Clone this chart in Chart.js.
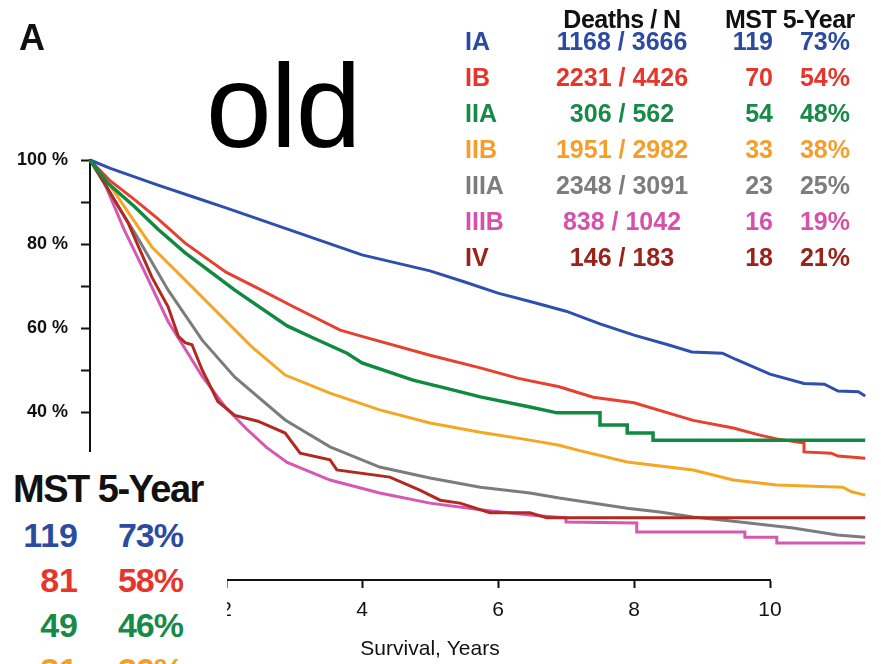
<!DOCTYPE html>
<html>
<head>
<meta charset="utf-8">
<script src="https://cdn.jsdelivr.net/npm/chart.js@4.4.1/dist/chart.umd.min.js"></script>
<style>
  html, body { margin: 0; padding: 0; background: #fff; }
  body { width: 885px; height: 664px; overflow: hidden; position: relative;
         font-family: "Liberation Sans", Arial, sans-serif; }
  #wrap { position: absolute; left: 0; top: 0; width: 885px; height: 664px; }
  .t { position: absolute; white-space: nowrap; line-height: 1; font-weight: bold; }
  #oldBox { position: absolute; left: 0; top: 452px; width: 227px; height: 212px; background: #fff; }
</style>
</head>
<body>
<div id="wrap"><canvas id="km"></canvas></div>
<div id="overlay"></div>
<div id="oldBox"></div>
<script>
// ── DATA ─────────────────────────────────────────────────────────────────────
const stages      = ['IA', 'IB', 'IIA', 'IIB', 'IIIA', 'IIIB', 'IV'];
const deaths      = [1168, 2231, 306, 1951, 2348, 838, 146];
const patients    = [3666, 4426, 562, 2982, 3091, 1042, 183];
const mstMonths   = [119, 70, 54, 33, 23, 16, 18];
const fiveYearPct = [73, 54, 48, 38, 25, 19, 21];

// older staging box (bottom-left, partly cut off)
const oldMst      = [119, 81, 49, 31];
const oldFiveYear = [73, 58, 46, 36];

const textColors = ['#2b4ba3', '#e8352b', '#178a47', '#f59e2c', '#7d7d7d', '#d651a9', '#9a2219'];
const lineColors = ['#2d4fae', '#e8402e', '#108a40', '#f5a623', '#7c7c7c', '#d658b2', '#b02a20'];

// survival curves, [years, % surviving]
const survIA = [[0,100],[0.3,98],[1,94],[1.5,91.3],[2,88.6],[2.5,85.8],[3,83],[3.5,80.2],[4,77.4],[4.5,75.5],
  [5,73.6],[5.5,71],[6,68.3],[6.5,66.2],[7,64],[7.5,61],[8,58.3],[8.5,56],[8.85,54.3],[9.3,54],[9.5,52.5],
  [10,49],[10.5,46.8],[10.8,46.6],[11,45],[11.3,44.8],[11.4,43.8]];
const survIB = [[0,100],[0.3,95],[0.66,90.5],[1,86],[1.4,80.2],[2,73.3],[2.5,69.2],[3,65],[3.68,59.5],[4,58],
  [5,53.5],[5.74,50.5],[6.3,48],[6.9,46],[7.4,43.5],[8,42.2],[8.87,38],[9.46,36.2],[9.85,34.5],[10.1,33.6],
  [10.5,32.6],[10.5,30.5],[10.9,30.2],[11,29.5],[11.4,29]];
const survIIA = [[0,100],[0.26,94.5],[0.66,88.8],[1,83.5],[1.4,77.9],[2.13,69],[2.9,60.5],[3.3,57.5],[3.78,54],
  [4,51.7],[4.75,47.6],[5.2,45.8],[5.74,43.6],[6.47,41.2],[6.87,39.8],[7.5,39.8],[7.5,36.9],[7.9,36.9],
  [7.9,35],[8.28,35],[8.28,33.3],[11.4,33.3]];
const survIIB = [[0,100],[0.25,95],[0.51,88.8],[0.91,79.3],[1.4,71.4],[1.88,63.6],[2.38,55.5],[2.87,48.8],
  [3.53,44.5],[4.26,40.5],[5,37.4],[5.74,35.2],[6.47,33.3],[6.9,32.1],[7.2,30.8],[7.9,28.1],[8.87,26.2],
  [9.46,23.8],[10.1,22.6],[11.07,22.1],[11.2,21],[11.4,20.2]];
const survIIIA = [[0,100],[0.3,92],[0.66,82.6],[1.15,69],[1.65,57.1],[2.13,48.3],[2.87,38.1],[3.53,31.7],
  [4.26,26.9],[5,24.3],[5.74,22.1],[6.47,20.7],[6.9,19.5],[7.9,17.1],[8.38,16.2],[8.87,15],[9.46,14],
  [10.34,12.4],[10.99,10.7],[11.4,10.2]];
const survIIIB = [[0,100],[0.2,95],[0.5,83.5],[0.8,73.5],[1.15,61.5],[1.4,55],[1.65,48.5],[2,41],[2.3,36],
  [2.6,31.5],[2.9,28],[3.53,23.8],[4.26,20.7],[5,18.3],[5.74,16.7],[6.47,15.5],[7,14.8],[7,13.8],[8.04,13.6],
  [8.04,11.4],[9.63,11.4],[9.63,10.2],[10.1,10.2],[10.1,8.8],[11.4,8.8]];
const survIV = [[0,100],[0.25,93.5],[0.56,85],[0.91,72.1],[1.15,65],[1.3,58],[1.4,56.5],[1.5,56],[1.65,50],
  [1.88,42.5],[2.13,39.2],[2.47,37.8],[2.87,35],[3.09,30.2],[3.53,28.6],[3.63,26.2],[4.41,24.5],[4.85,21.4],
  [5.15,19],[5.44,18.3],[5.88,16],[6.47,16],[6.72,14.8],[11.4,14.8]];
const curves = [survIA, survIB, survIIA, survIIB, survIIIA, survIIIB, survIV];
const drawOrder = [2, 3, 0, 4, 5, 6, 1];   // lower = drawn on top

const X_TICK_STEP = 2;
const Y_TICK_STEP = 10;

// ── TEXT OVERLAYS ────────────────────────────────────────────────────────────
const FONT = '"Liberation Sans", Arial, sans-serif';
const overlay = document.getElementById('overlay');

// place text by its baseline; align: left | center | right
function put(parent, text, x, baseline, size, color, align = 'left', extra = {}) {
  const d = document.createElement('div');
  d.className = 't';
  d.textContent = text;
  d.style.fontSize = size + 'px';
  d.style.color = color;
  d.style.left = x + 'px';
  d.style.top = (baseline - 0.8465 * size) + 'px';
  if (align === 'center') d.style.transform = 'translateX(-50%)';
  if (align === 'right')  d.style.transform = 'translateX(-100%)';
  Object.assign(d.style, extra);
  parent.appendChild(d);
  return d;
}

put(overlay, 'A', 19, 50, 36, '#111');
put(overlay, 'old', 206, 147, 118, '#000', 'left', { fontWeight: 'normal', letterSpacing: '-1px' });

// right-hand table
put(overlay, 'Deaths / N', 622, 28, 25, '#111', 'center', { letterSpacing: '-0.5px' });
put(overlay, 'MST 5-Year', 725, 28, 25, '#111', 'left', { letterSpacing: '-0.5px' });
stages.forEach((s, i) => {
  const base = 50 + 36 * i;
  put(overlay, s, 465, base, 25, textColors[i]);
  put(overlay, deaths[i] + ' / ' + patients[i], 622, base, 25, textColors[i], 'center');
  put(overlay, String(mstMonths[i]), 773, base, 25, textColors[i], 'right');
  put(overlay, fiveYearPct[i] + '%', 850, base, 25, textColors[i], 'right');
});

// bottom-left box with old staging numbers
const box = document.getElementById('oldBox');
put(box, 'MST 5-Year', 13, 50, 38, '#111', 'left', { letterSpacing: '-1.5px' });
oldMst.forEach((m, i) => {
  const base = 95 + 45 * i;
  put(box, String(m), 78, base, 34, textColors[i], 'right');
  put(box, oldFiveYear[i] + '%', 183, base, 34, textColors[i], 'right', { letterSpacing: '-1px' });
});

// ── CHART ────────────────────────────────────────────────────────────────────
new Chart(document.getElementById('km'), {
  type: 'line',
  data: {
    datasets: stages.map((s, i) => ({
      label: s,
      data: curves[i].map(([x, y]) => ({ x, y })),
      borderColor: lineColors[i],
      borderWidth: i === 2 ? 3.5 : 3,
      pointRadius: 0,
      tension: 0,
      clip: false,
      order: drawOrder[i],
    }))
  },
  options: {
    responsive: true,
    maintainAspectRatio: false,
    animation: false,
    layout: { padding: { top: 160, right: 115, left: 0, bottom: 0 } },
    plugins: { legend: { display: false }, tooltip: { enabled: false } },
    scales: {
      x: {
        type: 'linear',
        // axis drawn 0–10 years; curves run on past the end (clip: false)
        afterDataLimits: s => { s.min = 0; s.max = 10; },
        afterFit: s => { s.height = 84; },
        ticks: { stepSize: X_TICK_STEP, includeBounds: false, maxRotation: 0, color: '#111',
                 font: { family: FONT, size: 21 }, padding: 10 },
        grid: { drawOnChartArea: false, drawTicks: true, tickLength: 8, tickWidth: 2, tickColor: '#111' },
        border: { display: true, color: '#111', width: 2 },
        title: { display: true, text: 'Survival, Years', color: '#111',
                 font: { family: FONT, size: 21 }, padding: { top: 0, bottom: 2 } },
      },
      y: {
        min: 0, max: 100,
        afterFit: s => { s.width = 90; },
        ticks: { stepSize: Y_TICK_STEP, color: '#111', font: { family: FONT, size: 18, weight: 'bold' },
                 padding: 13, callback: v => (v % 20 === 0 ? v + ' %' : '') },
        grid: { drawOnChartArea: false, drawTicks: true, tickLength: 9, tickWidth: 2, tickColor: '#111' },
        border: { display: true, color: '#111', width: 2 },
      }
    }
  }
});
</script>
</body>
</html>
